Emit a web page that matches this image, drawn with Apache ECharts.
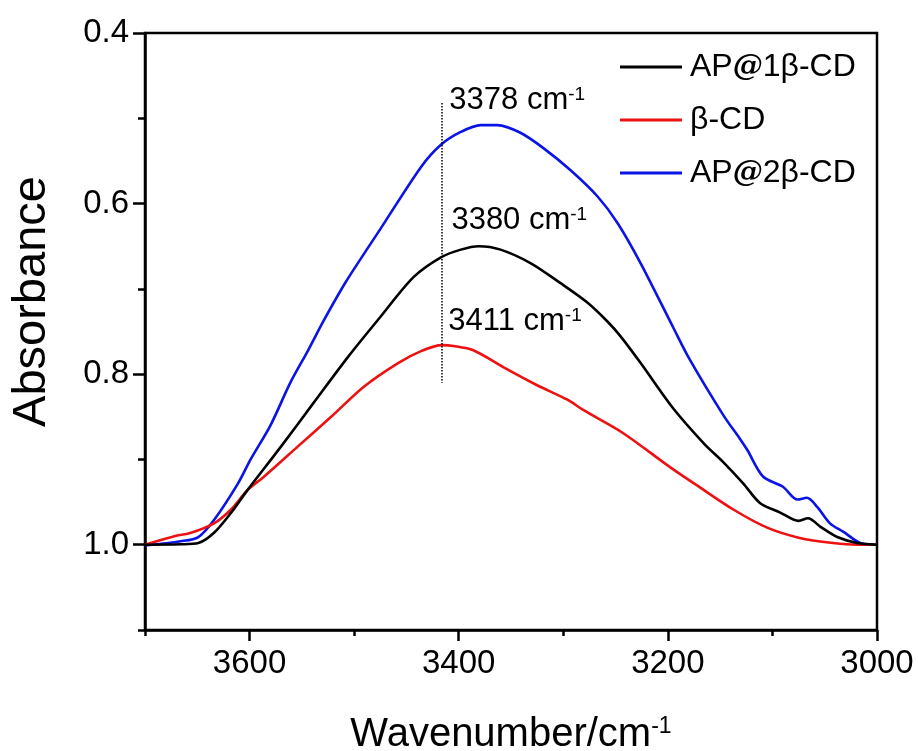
<!DOCTYPE html>
<html>
<head>
<meta charset="utf-8">
<script src="https://cdn.jsdelivr.net/npm/echarts@6/dist/echarts.min.js"></script>
<style>
  html, body { margin: 0; padding: 0; background: #fff; }
  #chart { width: 918px; height: 751px; }
</style>
</head>
<body>
<div id="chart"></div>
<script>
// wavenumber (cm-1) / absorbance pairs
const wnAP1 = [3700, 3666, 3649, 3634, 3618, 3602, 3570, 3539, 3506, 3475, 3443, 3417, 3398, 3381, 3360, 3331, 3303, 3277, 3258, 3245, 3226, 3195, 3165, 3148, 3128, 3112, 3093, 3075, 3066, 3054, 3038, 3019, 3000];
const absAP1 = [1.000, 0.9995, 0.998, 0.986, 0.963, 0.936, 0.885, 0.834, 0.780, 0.733, 0.686, 0.663, 0.654, 0.650, 0.654, 0.670, 0.693, 0.716, 0.738, 0.756, 0.787, 0.840, 0.882, 0.902, 0.928, 0.951, 0.962, 0.972, 0.969, 0.979, 0.991, 0.998, 1.000];

const wnCD = [3700, 3672, 3656, 3634, 3618, 3602, 3586, 3554, 3522, 3491, 3458, 3436, 3416, 3405, 3386, 3357, 3325, 3296, 3281, 3243, 3198, 3169, 3137, 3105, 3074, 3042, 3019, 3000];
const absCD = [1.000, 0.990, 0.986, 0.975, 0.959, 0.936, 0.920, 0.885, 0.850, 0.815, 0.787, 0.773, 0.766, 0.767, 0.772, 0.792, 0.813, 0.830, 0.842, 0.869, 0.909, 0.933, 0.959, 0.980, 0.992, 0.998, 1.000, 1.000];

const wnAP2 = [3700, 3666, 3649, 3634, 3611, 3599, 3580, 3561, 3544, 3529, 3508, 3475, 3436, 3417, 3398, 3379, 3363, 3341, 3319, 3293, 3267, 3248, 3226, 3195, 3179, 3147, 3131, 3124, 3109, 3090, 3076, 3067, 3057, 3045, 3032, 3016, 3000];
const absAP2 = [1.001, 0.996, 0.991, 0.971, 0.928, 0.900, 0.860, 0.810, 0.772, 0.737, 0.692, 0.630, 0.557, 0.531, 0.516, 0.508, 0.508, 0.517, 0.535, 0.561, 0.592, 0.623, 0.670, 0.745, 0.783, 0.848, 0.876, 0.889, 0.920, 0.932, 0.947, 0.945, 0.956, 0.975, 0.985, 0.998, 1.000];

const seriesNames = ["AP@1β-CD", "β-CD", "AP@2β-CD"];

const xMajor = [3600, 3400, 3200, 3000];
const xMinor = [3700, 3500, 3300, 3100];
const yMajor = [0.4, 0.6, 0.8, 1.0];
const yMinor = [0.5, 0.7, 0.9, 1.1];

// peak annotations: [label x, label y, text]
const peakLabels = [
  [3409, 0.479, "3378"],
  [3407, 0.620, "3380"],
  [3410, 0.738, "3411"],
];
const guideX = 3416;
const guideY = [0.482, 0.81];

const FONT = "Liberation Sans, Arial, sans-serif";

const chart = echarts.init(document.getElementById("chart"));

const pairs = (xs, ys) => xs.map((x, i) => [x, ys[i]]);

const baseX = {
  type: "value",
  min: 3000,
  max: 3700,
  inverse: true,
  splitLine: { show: false },
};
const baseY = {
  type: "value",
  min: 0.4,
  max: 1.1,
  inverse: true,
  splitLine: { show: false },
};

const option = {
  animation: false,
  backgroundColor: "#fff",
  grid: {
    left: 145,
    right: 41,
    top: 33,
    bottom: 121,
    outerBoundsMode: "none",
    containLabel: false,
    show: true,
    borderColor: "#000",
    borderWidth: 2.5,
  },
  legend: {
    orient: "vertical",
    left: 620,
    top: 51,
    padding: 0,
    icon: "rect",
    itemWidth: 62,
    itemHeight: 3,
    itemGap: 21,
    data: seriesNames,
    textStyle: {
      fontFamily: FONT,
      fontSize: 32,
      color: "#000",
      padding: [0, 0, 0, 3],
      rich: {
        at: { fontFamily: "DejaVu Serif, serif", fontWeight: "bold", fontStyle: "italic", fontSize: 30, color: "#000" },
      },
    },
    formatter: (name) => name.replace("@", "{at|@}"),
  },
  xAxis: [
    {
      ...baseX,
      name: "Wavenumber/cm{s|-1}",
      nameLocation: "middle",
      nameGap: 85,
      nameTextStyle: {
        fontFamily: FONT,
        fontSize: 40,
        color: "#000",
        rich: { s: { fontFamily: FONT, fontSize: 23, verticalAlign: "top", color: "#000" } },
      },
      axisLine: { onZero: false, lineStyle: { color: "#000", width: 2.5 } },
      axisTick: { customValues: xMajor, length: 11, lineStyle: { color: "#000", width: 2.5 } },
      axisLabel: {
        customValues: xMajor,
        margin: 17,
        fontFamily: FONT,
        fontSize: 33,
        color: "#000",
        formatter: (v) => String(v),
      },
    },
    {
      ...baseX,
      position: "bottom",
      axisLine: { show: false },
      axisTick: { customValues: xMinor, length: 6, lineStyle: { color: "#000", width: 2.5 } },
      axisLabel: { show: false },
    },
  ],
  yAxis: [
    {
      ...baseY,
      name: "Absorbance",
      nameLocation: "middle",
      nameGap: 89,
      nameTextStyle: {
        fontFamily: FONT,
        fontSize: 47,
        color: "#000",
        padding: [0, 0, 0, 60],
      },
      axisLine: { onZero: false, lineStyle: { color: "#000", width: 2.5 } },
      axisTick: { customValues: yMajor, length: 12, lineStyle: { color: "#000", width: 2.5 } },
      axisLabel: {
        customValues: yMajor,
        margin: 16,
        fontFamily: FONT,
        fontSize: 33,
        color: "#000",
        formatter: (v) => v.toFixed(1),
      },
    },
    {
      ...baseY,
      position: "left",
      axisLine: { show: false },
      axisTick: { customValues: yMinor, length: 7, lineStyle: { color: "#000", width: 2.5 } },
      axisLabel: { show: false },
    },
  ],
  series: [
    {
      name: seriesNames[0],
      type: "line",
      symbol: "none",
      smooth: 0.3,
      data: pairs(wnAP1, absAP1),
      lineStyle: { color: "#000", width: 2.6 },
      itemStyle: { color: "#000" },
      z: 3,
      markLine: {
        silent: true,
        symbol: "none",
        label: { show: false },
        lineStyle: { color: "#000", type: [1.5, 1.5], width: 1.5 },
        data: [[{ coord: [guideX, guideY[0]] }, { coord: [guideX, guideY[1]] }]],
      },
      markPoint: {
        silent: true,
        symbol: "circle",
        symbolSize: 0,
        label: {
          show: true,
          position: "right",
          distance: 0,
          fontFamily: FONT,
          fontSize: 31,
          color: "#000",
          formatter: (p) => p.name + " cm{s|-1}",
          rich: { s: { fontFamily: FONT, fontSize: 19, verticalAlign: "top", color: "#000" } },
        },
        data: peakLabels.map((d) => ({ name: d[2], coord: [d[0], d[1]] })),
      },
    },
    {
      name: seriesNames[1],
      type: "line",
      symbol: "none",
      smooth: 0.3,
      data: pairs(wnCD, absCD),
      lineStyle: { color: "#ee1111", width: 2.6 },
      itemStyle: { color: "#ee1111" },
      z: 2,
    },
    {
      name: seriesNames[2],
      type: "line",
      symbol: "none",
      smooth: 0.3,
      data: pairs(wnAP2, absAP2),
      lineStyle: { color: "#0a14e6", width: 2.6 },
      itemStyle: { color: "#0a14e6" },
      z: 1,
    },
  ],
};

chart.setOption(option);
</script>
</body>
</html>
